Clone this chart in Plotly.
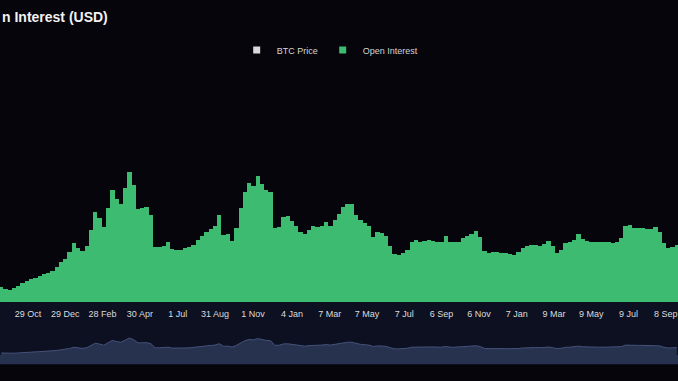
import pandas as pd
import plotly.graph_objects as go

# Weekly open interest (billion USD), starting 15 Sep 2020
start_date = "2020-09-15"
open_interest = [
    3.0, 2.6, 2.4, 2.8, 3.2, 3.8, 4.2, 4.6, 4.8, 5.2, 5.6, 5.8, 6.2, 7.0, 8.0, 8.6,
    10.0, 11.8, 10.8, 10.2, 11.2, 14.4, 18.0, 16.8, 15.0, 18.8, 22.4, 20.6, 19.6, 22.8,
    26.0, 23.4, 18.6, 18.8, 19.0, 17.4, 11.0, 11.0, 11.2, 12.0, 10.6, 10.4, 10.4, 10.8,
    11.0, 11.4, 12.4, 13.2, 14.0, 14.6, 15.2, 17.4, 13.4, 13.6, 12.2, 14.8, 18.8, 22.0,
    23.8, 23.2, 25.2, 23.6, 22.4, 22.0, 14.8, 15.0, 17.0, 17.2, 16.2, 15.2, 14.0, 13.6,
    14.4, 15.2, 15.0, 15.2, 16.0, 15.2, 16.4, 17.6, 19.0, 19.6, 19.6, 17.4, 16.4, 15.8,
    15.2, 13.0, 14.0, 13.8, 13.2, 11.2, 9.6, 9.4, 9.8, 10.4, 12.0, 12.4, 12.0, 12.2,
    12.4, 12.2, 12.0, 12.0, 13.2, 12.0, 12.0, 12.0, 12.8, 13.2, 13.6, 14.2, 13.0, 10.2,
    9.8, 10.0, 10.0, 9.8, 9.8, 9.6, 9.4, 10.0, 10.8, 11.2, 11.4, 11.4, 11.2, 11.6,
    12.2, 11.2, 9.8, 10.4, 11.8, 12.0, 12.4, 13.6, 12.6, 12.2, 12.0, 12.0, 12.0, 12.0,
    12.0, 11.8, 12.0, 12.8, 15.2, 15.4, 14.8, 14.8, 14.8, 14.6, 14.6, 15.0, 14.0, 11.8,
    10.8, 11.0, 11.4,
]
dates = pd.date_range(start_date, periods=len(open_interest), freq="7D")

tick_dates = [
    "2020-10-29", "2020-12-29", "2021-02-28", "2021-04-30", "2021-07-01", "2021-08-31",
    "2021-11-01", "2022-01-04", "2022-03-07", "2022-05-07", "2022-07-07", "2022-09-06",
    "2022-11-06", "2023-01-07", "2023-03-09", "2023-05-09", "2023-07-09", "2023-09-08",
]
tick_labels = [
    "29 Oct", "29 Dec", "28 Feb", "30 Apr", "1 Jul", "31 Aug", "1 Nov", "4 Jan", "7 Mar",
    "7 May", "7 Jul", "6 Sep", "6 Nov", "7 Jan", "9 Mar", "9 May", "9 Jul", "8 Sep",
]
series_names = ["BTC Price", "Open Interest"]
title_text = "n Interest (USD)"
x_range = ["2020-09-13", "2023-09-28"]

W, H = 678, 381
def py(pix):  # pixel from top -> paper fraction
    return (H - pix) / H

BG = "#05050b"
GREEN = "#3dbb71"
FONT = "Arial, Liberation Sans, sans-serif"

fig = go.Figure()
# legend entries (BTC Price series is switched off in the source chart)
fig.add_trace(go.Scatter(x=[None], y=[None], mode="markers", name=series_names[0],
                         marker=dict(symbol="square", size=7, color="#d9d9d9"),
                         legendgroup="btc"))
fig.add_trace(go.Scatter(x=[None], y=[None], mode="markers", name=series_names[1],
                         marker=dict(symbol="square", size=7, color=GREEN),
                         legendgroup="oi"))
fig.add_trace(go.Bar(x=dates, y=open_interest, name=series_names[1], showlegend=False,
                     legendgroup="oi",
                     marker=dict(color=GREEN, line=dict(width=0)),
                     xaxis="x", yaxis="y"))
# navigator
fig.add_trace(go.Scatter(x=dates, y=open_interest, mode="lines", fill="tozeroy",
                         line=dict(color="#44527a", width=1), fillcolor="#27324f",
                         showlegend=False, xaxis="x2", yaxis="y2", hoverinfo="skip"))

nav_lo, nav_hi = -13.8, 53.7
fig.update_layout(
    width=W, height=H,
    margin=dict(l=0, r=0, t=0, b=0),
    paper_bgcolor=BG, plot_bgcolor=BG,
    bargap=0.0,
    showlegend=True,
    legend=dict(orientation="h", x=0.487, xanchor="center", y=py(50), yanchor="middle",
                font=dict(family=FONT, size=9, color="#d4d4d4"),
                bgcolor="rgba(0,0,0,0)", itemwidth=30, traceorder="normal",
                tracegroupgap=0),
    xaxis=dict(type="date", range=x_range, domain=[0, 1], anchor="y",
               tickvals=tick_dates, ticktext=tick_labels, showgrid=False,
               zeroline=False, showline=False, ticks="", ticklabelstandoff=5,
               tickfont=dict(family=FONT, size=9, color="#dcdcdc")),
    yaxis=dict(domain=[py(302), py(60)], range=[0, 48.4], visible=False,
               showgrid=False, zeroline=False),
    xaxis2=dict(type="date", range=x_range, domain=[0, 1], anchor="y2", visible=False,
                showgrid=False),
    yaxis2=dict(domain=[py(364), py(320)], range=[nav_lo, nav_hi], visible=False,
                showgrid=False, zeroline=False),
    shapes=[
        dict(type="rect", xref="paper", yref="paper", x0=0, x1=1, y0=py(365), y1=py(302),
             fillcolor="#0c1020", line=dict(width=0), layer="below"),
        dict(type="rect", xref="paper", yref="y2", x0=0, x1=1, y0=nav_lo, y1=0,
             fillcolor="#27324f", line=dict(width=0), layer="below"),
    ],
    annotations=[
        dict(text="<b>" + title_text + "</b>", xref="paper", yref="paper",
             x=0, xanchor="left", y=py(17), yanchor="middle", showarrow=False,
             font=dict(family=FONT, size=14, color="#f2f2f2")),
    ],
)

fig.write_html("out.html", config={"displayModeBar": False})
